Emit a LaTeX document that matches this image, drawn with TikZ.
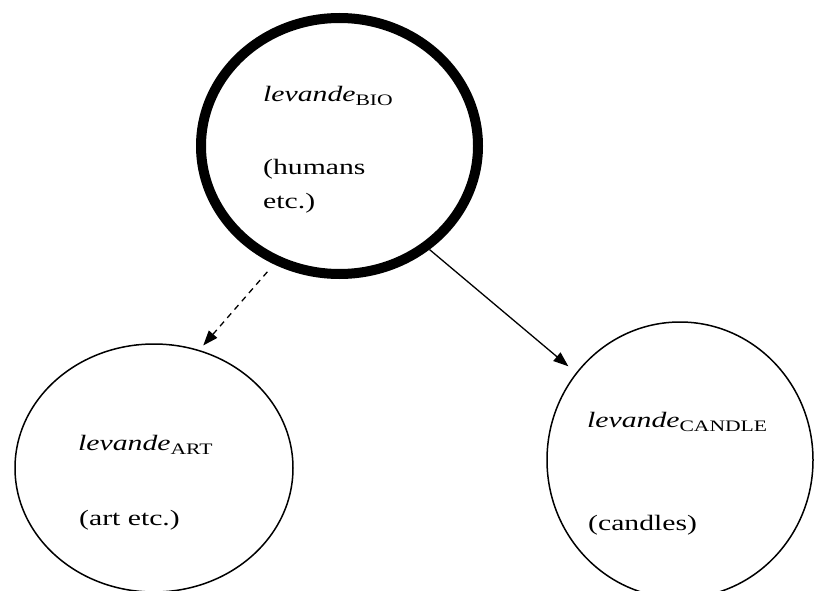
\documentclass[tikz,border=0pt]{standalone}
\usepackage{fontspec}
\setmainfont{Liberation Serif}[FakeStretch=1.35]
\usetikzlibrary{shapes.geometric,arrows.meta}

% small upright subscript used for the sense labels
\newcommand{\sensesub}[1]{\raisebox{-4pt}{\fontsize{16}{18}\selectfont #1}}

\begin{document}
\begin{tikzpicture}[x=1pt,y=-1pt,
  sense/.style={ellipse, draw, inner sep=0pt, line width=1.5pt},
  mainsense/.style={sense, line width=10pt},
  lbl/.style={anchor=base west, inner sep=0pt, font=\fontsize{22}{26}\selectfont},
  link/.style={line width=1.3pt, -{Triangle[length=15pt,width=11pt]}},
  dashlink/.style={link, dash pattern=on 6pt off 5pt}]

  \useasboundingbox (0,0) rectangle (814,591);
  \clip (0,0) rectangle (814,591);

  % the three senses
  \node[mainsense, minimum width=277pt, minimum height=256pt] (bio) at (339.5,146) {};
  \node[sense, minimum width=278pt, minimum height=248pt] (art) at (154,468) {};
  \node[sense, minimum width=266pt, minimum height=276pt] (candle) at (680,460) {};

  % labels
  \node[lbl] (biohead) at (263,102) {\textit{levande}\sensesub{BIO}};
  \node[lbl] (biohum) at (263,175) {(humans};
  \node[lbl] (bioetc) at (263,208) {etc.)};

  \node[lbl] (arthead) at (78,450) {\textit{levande}\sensesub{ART}};
  \node[lbl] (artetc) at (79,525) {(art etc.)};

  \node[lbl] (candhead) at (587,427) {\textit{levande}\sensesub{CANDLE}};
  \node[lbl] (candtxt) at (588,530) {(candles)};

  % extensions of the meaning
  \draw[dashlink, shorten <=10pt, shorten >=6pt] (bio.-119.4) -- (art.69.6);
  \draw[link, shorten >=10pt] (bio.-49.8) -- (candle.140.3);
\end{tikzpicture}
\end{document}
